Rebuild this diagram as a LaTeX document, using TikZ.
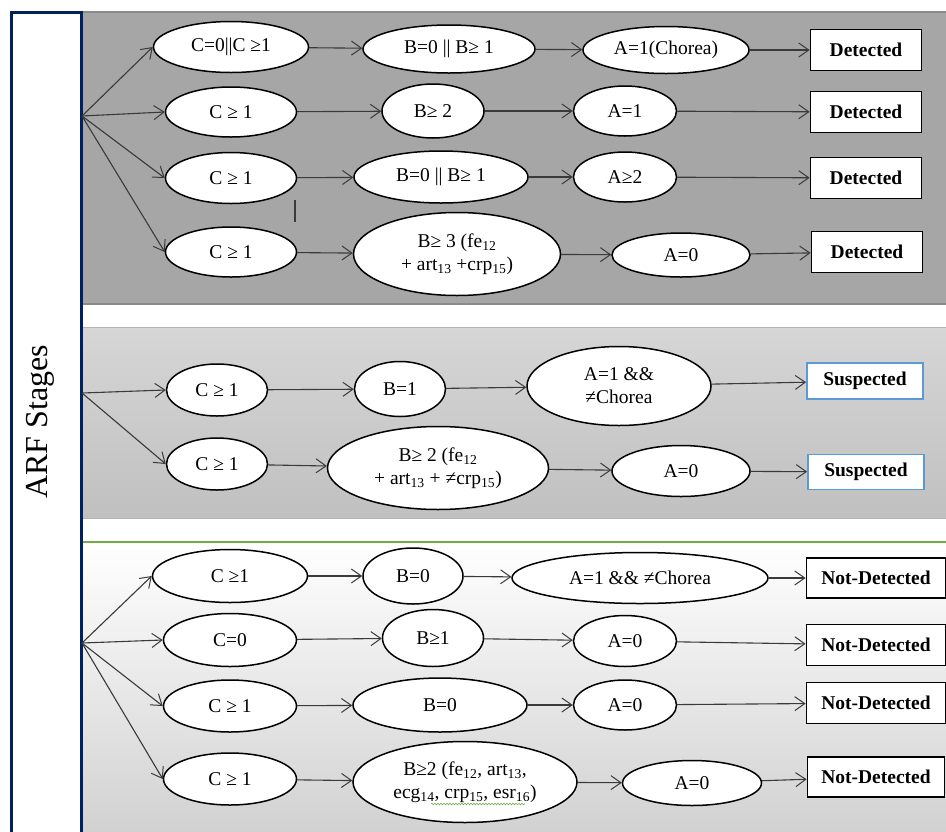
\documentclass[tikz,border=0pt]{standalone}
\usepackage{fontspec}
\setmainfont{Liberation Serif}
\usetikzlibrary{shapes.geometric,arrows.meta,decorations.pathmorphing}
\definecolor{navy}{HTML}{002060}
\definecolor{panelgray}{HTML}{A6A6A6}
\definecolor{panelline}{HTML}{8A8A8A}
\definecolor{midtop}{HTML}{D6D6D6}
\definecolor{midbot}{HTML}{C0C0C0}
\definecolor{midline}{HTML}{B4B4B4}
\definecolor{lowbot}{HTML}{D0D0D0}
\definecolor{sepgreen}{HTML}{70AD47}
\definecolor{boxblue}{HTML}{5B9BD5}
\definecolor{linegray}{HTML}{3A3A3A}
\newcommand{\sub}[1]{\textsubscript{#1}}
\begin{document}
\begin{tikzpicture}[x=1pt,y=-1pt,
  sz/.style 2 args={minimum width=#1pt,minimum height=#2pt},
  cond/.style={ellipse,draw=black,line width=1.5pt,fill=white,inner sep=0pt,
    font=\fontsize{19.5}{23}\selectfont,align=center},
  outbox/.style={rectangle,draw=black,line width=1.8pt,fill=white,inner sep=0pt,
    font=\fontsize{19.5}{22}\selectfont\bfseries},
  suspbox/.style={outbox,draw=boxblue},
  flow/.style={draw=linegray,line width=1.1pt,-{Straight Barb[length=10pt,width=14pt,line width=1pt]}},
]
\useasboundingbox (0,0) rectangle (946,831);

% stage panels
\fill[white] (0,0) rectangle (946,831);
\filldraw[fill=panelgray,draw=panelline,line width=1.5pt] (82,12) rectangle (950,304);
\shade[top color=midtop,bottom color=midbot] (82,327) rectangle (950,518);
\draw[midline,line width=1pt] (82,327) -- (950,327) (82,518) -- (950,518);
\shade[top color=white,bottom color=lowbot] (82,542) rectangle (950,840);
\draw[sepgreen,line width=1.5pt] (82,542) -- (950,542);

% stage label bar
\filldraw[fill=white,draw=navy,line width=3pt] (11,12) rectangle (81.5,845);
\node[rotate=90,font=\fontsize{32}{36}\selectfont] (stages) at (40,422) {ARF Stages};

% ---------- detected ----------
\coordinate (o1) at (82,116);
\node[cond,sz={155}{51}] (c11) at (231,47) {C=0||C ≥1};
\node[cond,sz={172}{48}] (b11) at (449,49) {B=0 || B≥ 1};
\node[cond,sz={166}{47}] (a11) at (666,50) {A=1(Chorea)};
\node[outbox,sz={111}{41}] (d11) at (866,50) {Detected};

\node[cond,sz={131}{50}] (c12) at (231,112) {C ≥ 1};
\node[cond,sz={102}{54}] (b12) at (433,111) {B≥ 2};
\node[cond,sz={103}{50}] (a12) at (625,111) {A=1};
\node[outbox,sz={111}{41}] (d12) at (866,112) {Detected};

\node[cond,sz={131}{51}] (c13) at (231,178) {C ≥ 1};
\node[cond,sz={174}{52}] (b13) at (441,177) {B=0 || B≥ 1};
\node[cond,sz={103}{50}] (a13) at (625,177) {A≥2};
\node[outbox,sz={111}{41}] (d13) at (866,178) {Detected};

\node[cond,sz={131}{50}] (c14) at (231,252) {C ≥ 1};
\node[cond,sz={207}{83}] (b14) at (457,254) {B≥ 3 (fe\sub{12}\\+ art\sub{13} +crp\sub{15})};
\node[cond,sz={138}{44}] (a14) at (681,255) {A=0};
\node[outbox,sz={111}{41}] (d14) at (867,252) {Detected};

\draw[linegray,line width=1.5pt] (295,200) -- (295,222);

\foreach \r in {11,12,13,14}{
  \draw[flow] (o1) -- (c\r.west);
  \draw[flow] (c\r) -- (b\r);
  \draw[flow] (b\r) -- (a\r);
  \draw[flow] (a\r) -- (d\r);
}

% ---------- suspected ----------
\coordinate (o2) at (82,393);
\node[cond,sz={101}{52}] (c21) at (217,390) {C ≥ 1};
\node[cond,sz={91}{55}] (b21) at (400,389) {B=1};
\node[cond,sz={184}{79}] (a21) at (619,386) {A=1 \&\&\\≠Chorea};
\node[suspbox,sz={116}{36}] (d21) at (865,381) {Suspected};

\node[cond,sz={101}{52}] (c22) at (217,464) {C ≥ 1};
\node[cond,sz={221}{83}] (b22) at (438,468) {B≥ 2 (fe\sub{12}\\+ art\sub{13} + ≠crp\sub{15})};
\node[cond,sz={138}{51}] (a22) at (681,471) {A=0};
\node[suspbox,sz={116}{35}] (d22) at (866,472) {Suspected};

\foreach \r in {21,22}{
  \draw[flow] (o2) -- (c\r.west);
  \draw[flow] (c\r) -- (b\r);
  \draw[flow] (b\r) -- (a\r);
  \draw[flow] (a\r) -- (d\r);
}

% ---------- not detected ----------
\coordinate (o3) at (82,643);
\node[cond,sz={155}{53}] (c31) at (230,576) {C ≥1};
\node[cond,sz={100}{56}] (b31) at (413,576) {B=0};
\node[cond,sz={256}{51}] (a31) at (640,578) {A=1 \&\& ≠Chorea};
\node[outbox,sz={139}{40}] (d31) at (876,578) {Not-Detected};

\node[cond,sz={133}{53}] (c32) at (230,640) {C=0};
\node[cond,sz={101}{57}] (b32) at (433,638) {B≥1};
\node[cond,sz={103}{51}] (a32) at (625,641) {A=0};
\node[outbox,sz={139}{41}] (d32) at (876,645) {Not-Detected};

\node[cond,sz={133}{52}] (c33) at (230,706) {C ≥ 1};
\node[cond,sz={174}{54}] (b33) at (440,705) {B=0};
\node[cond,sz={103}{50}] (a33) at (625,705) {A=0};
\node[outbox,sz={139}{41}] (d33) at (876,703) {Not-Detected};

\node[cond,sz={133}{52}] (c34) at (230,779) {C ≥ 1};
\node[cond,sz={224}{81}] (b34) at (465,782) {B≥2 (fe\sub{12}, art\sub{13},\\ecg\sub{14}, crp\sub{15}, esr\sub{16})};
\node[cond,sz={139}{45}] (a34) at (692,783) {A=0};
\node[outbox,sz={137}{40}] (d34) at (876,777) {Not-Detected};

\draw[sepgreen,line width=0.6pt,decorate,decoration={snake,amplitude=0.8pt,segment length=3pt}]
  (431,804) -- (525,804);

\foreach \r in {31,32,33,34}{
  \draw[flow] (o3) -- (c\r.west);
  \draw[flow] (c\r) -- (b\r);
  \draw[flow] (b\r) -- (a\r);
  \draw[flow] (a\r) -- (d\r);
}
\end{tikzpicture}
\end{document}
